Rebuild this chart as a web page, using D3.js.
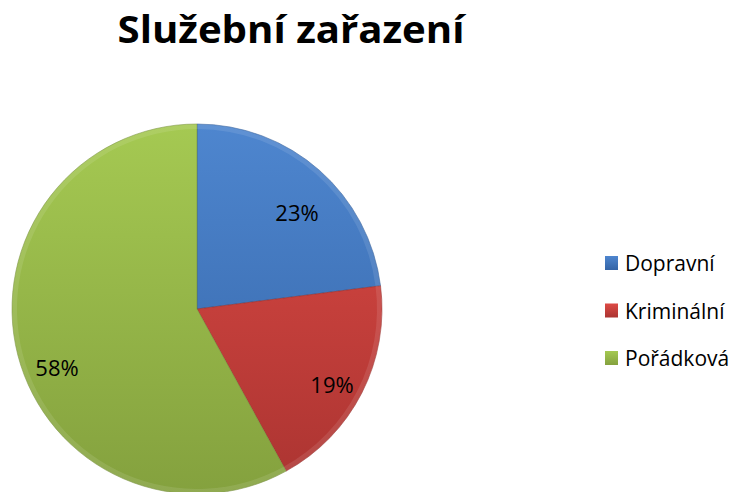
<!DOCTYPE html>
<html>
<head>
<meta charset="utf-8">
<script src="https://cdn.jsdelivr.net/npm/d3@7"></script>
<style>
  body { margin: 0; background: #fff; }
  text { font-family: "Open Sans", "Noto Sans", sans-serif; }
</style>
</head>
<body>
<svg width="740" height="492"></svg>
<script>
var categories = ["Dopravní", "Kriminální", "Pořádková"];
var values = [23, 19, 58];
var labels = ["23%", "19%", "58%"];
var colorsLight = ["#4e86cf", "#dd4a45", "#a5c952"];
var colorsDark = ["#3464a6", "#ab3431", "#84a13e"];
var colorsEdge = ["#2c5590", "#8f2a28", "#6f8833"];

var svg = d3.select("svg");
var cx = 197, cy = 309, radius = 185;

// title
svg.append("text")
  .attr("x", 291).attr("y", 43)
  .attr("text-anchor", "middle")
  .attr("font-size", 38)
  .attr("font-weight", "bold")
  .attr("textLength", 347)
  .attr("lengthAdjust", "spacingAndGlyphs")
  .text("Služební zařazení");

var defs = svg.append("defs");
categories.forEach(function(c, i) {
  // gradient in the pie group's local coords (centre at 0,0)
  var g = defs.append("linearGradient")
    .attr("id", "grad" + i)
    .attr("gradientUnits", "userSpaceOnUse")
    .attr("x1", 0).attr("y1", -radius)
    .attr("x2", 0).attr("y2", radius);
  g.append("stop").attr("offset", "0%").attr("stop-color", colorsLight[i]);
  g.append("stop").attr("offset", "100%").attr("stop-color", colorsDark[i]);
  var lg = defs.append("linearGradient")
    .attr("id", "lgrad" + i)
    .attr("x1", 0).attr("y1", 0).attr("x2", 0).attr("y2", 1);
  lg.append("stop").attr("offset", "0%").attr("stop-color", colorsLight[i]);
  lg.append("stop").attr("offset", "100%").attr("stop-color", colorsDark[i]);
});

var pie = d3.pie().sort(null).value(function(d) { return d; });
var arcs = pie(values);
var arc = d3.arc().innerRadius(0).outerRadius(radius);
var bevel = d3.arc().innerRadius(radius - 5).outerRadius(radius);

var g = svg.append("g").attr("transform", "translate(" + cx + "," + cy + ")");

g.selectAll("path.slice").data(arcs).enter().append("path")
  .attr("class", "slice")
  .attr("d", arc)
  .attr("fill", function(d, i) { return "url(#grad" + i + ")"; })
  .attr("stroke", function(d, i) { return colorsEdge[i]; })
  .attr("stroke-opacity", 0.5)
  .attr("stroke-width", 1);

g.selectAll("path.bevel").data(arcs).enter().append("path")
  .attr("class", "bevel")
  .attr("d", bevel)
  .attr("fill", "#ffffff")
  .attr("fill-opacity", 0.1);

// data labels
var labelPos = [[100, -97], [135, 75], [-140, 58]];
g.selectAll("text.lbl").data(arcs).enter().append("text")
  .attr("class", "lbl")
  .attr("x", function(d, i) { return labelPos[i][0]; })
  .attr("y", function(d, i) { return labelPos[i][1]; })
  .attr("text-anchor", "middle")
  .attr("dominant-baseline", "central")
  .attr("font-size", 22)
  .attr("fill", "#000")
  .text(function(d, i) { return labels[i]; });

// legend
var yScale = d3.scalePoint().domain(categories).range([263, 358]);
var leg = svg.append("g");
var items = leg.selectAll("g").data(categories).enter().append("g")
  .attr("transform", function(d) { return "translate(605," + yScale(d) + ")"; });
items.append("rect")
  .attr("x", 0).attr("y", -7).attr("width", 13).attr("height", 14)
  .attr("fill", function(d, i) { return "url(#lgrad" + i + ")"; });
items.append("text")
  .attr("x", 20).attr("y", 0)
  .attr("dominant-baseline", "central")
  .attr("font-size", 21)
  .text(function(d) { return d; });
</script>
</body>
</html>
